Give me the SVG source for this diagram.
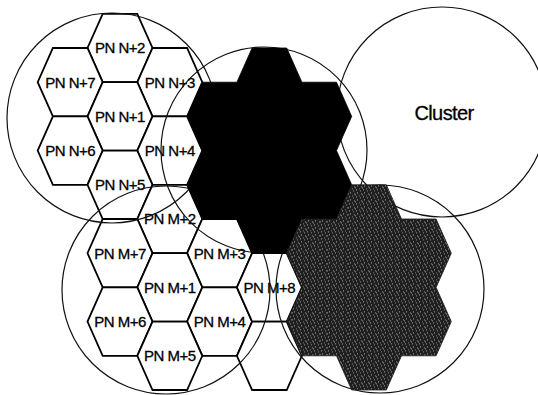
<svg xmlns="http://www.w3.org/2000/svg" xmlns:xlink="http://www.w3.org/1999/xlink" width="538" height="395" viewBox="0 0 538 395">
<style>
.hex{fill:#fff;stroke:#000;stroke-width:1.8;stroke-linejoin:miter}
.circ{fill:none;stroke:#111;stroke-width:1.2}
.lbl{font-family:"Liberation Sans",Arial,sans-serif;font-size:15px;letter-spacing:-0.5px;text-anchor:middle;fill:#000;stroke:#000;stroke-width:0.3}
.big{font-family:"Liberation Sans",Arial,sans-serif;font-size:20px;letter-spacing:-0.6px;text-anchor:middle;fill:#000;stroke:#000;stroke-width:0.3}
</style>
<defs>
<polygon id="hx" points="-17.3,-34.2 17.3,-34.2 32.5,0 17.3,34.2 -17.3,34.2 -32.5,0"/>
<polygon id="fl" points="-17.3,-102.6 17.3,-102.6 32.5,-68.4 67.1,-68.4 82.3,-34.2 67.1,0 82.3,34.2 67.1,68.4 32.5,68.4 17.3,102.6 -17.3,102.6 -32.5,68.4 -67.1,68.4 -82.3,34.2 -67.1,0 -82.3,-34.2 -67.1,-68.4 -32.5,-68.4"/>
<pattern id="dith" width="7" height="7" patternUnits="userSpaceOnUse">
<rect width="7" height="7" fill="#1f1f1f"/>
<rect x="1" y="0" width="1" height="1" fill="#a5a5a5"/>
<rect x="5" y="1" width="1" height="1" fill="#8a8a8a"/>
<rect x="2" y="3" width="1" height="1" fill="#b0b0b0"/>
<rect x="6" y="4" width="1" height="1" fill="#909090"/>
<rect x="0" y="5" width="1" height="1" fill="#9c9c9c"/>
<rect x="4" y="6" width="1" height="1" fill="#7a7a7a"/>
</pattern>
</defs>
<rect width="538" height="395" fill="#fff"/>

<g id="cluster-n">
<g id="pn-n2"><use href="#hx" class="hex" transform="translate(120,48)"/><text class="lbl" x="120" y="53.4">PN N+2</text></g>
<g id="pn-n7"><use href="#hx" class="hex" transform="translate(70.2,82.2)"/><text class="lbl" x="70.2" y="87.6">PN N+7</text></g>
<g id="pn-n3"><use href="#hx" class="hex" transform="translate(169.8,82.2)"/><text class="lbl" x="169.8" y="87.6">PN N+3</text></g>
<g id="pn-n1"><use href="#hx" class="hex" transform="translate(120,116.4)"/><text class="lbl" x="120" y="121.8">PN N+1</text></g>
<g id="pn-n6"><use href="#hx" class="hex" transform="translate(70.2,150.6)"/><text class="lbl" x="70.2" y="156">PN N+6</text></g>
<g id="pn-n4"><use href="#hx" class="hex" transform="translate(169.8,150.6)"/><text class="lbl" x="169.8" y="156">PN N+4</text></g>
<g id="pn-n5"><use href="#hx" class="hex" transform="translate(120,184.8)"/><text class="lbl" x="120" y="190.2">PN N+5</text></g>
</g>

<g id="cluster-m">
<g id="pn-m2"><use href="#hx" class="hex" transform="translate(169.8,219)"/><text class="lbl" x="169.8" y="224.4">PN M+2</text></g>
<g id="pn-m7"><use href="#hx" class="hex" transform="translate(120,253.2)"/><text class="lbl" x="120" y="258.6">PN M+7</text></g>
<g id="pn-m3"><use href="#hx" class="hex" transform="translate(219.6,253.2)"/><text class="lbl" x="219.6" y="258.6">PN M+3</text></g>
<g id="pn-m1"><use href="#hx" class="hex" transform="translate(169.8,287.4)"/><text class="lbl" x="169.8" y="292.8">PN M+1</text></g>
<g id="pn-m6"><use href="#hx" class="hex" transform="translate(120,321.6)"/><text class="lbl" x="120" y="327">PN M+6</text></g>
<g id="pn-m4"><use href="#hx" class="hex" transform="translate(219.6,321.6)"/><text class="lbl" x="219.6" y="327">PN M+4</text></g>
<g id="pn-m5"><use href="#hx" class="hex" transform="translate(169.8,355.8)"/><text class="lbl" x="169.8" y="361.2">PN M+5</text></g>
<g id="pn-m8"><use href="#hx" class="hex" transform="translate(269.4,287.4)"/><text class="lbl" x="269.4" y="292.8">PN M+8</text></g>
<g id="hex-empty"><use href="#hx" class="hex" transform="translate(269.4,355.8)"/></g>
</g>

<g id="circles">
<circle class="circ" cx="112" cy="118" r="105"/>
<circle class="circ" cx="264" cy="150" r="103"/>
<circle class="circ" cx="442" cy="112" r="105"/>
<circle class="circ" cx="166" cy="290" r="104"/>
<circle class="circ" cx="380" cy="289" r="104"/>
</g>

<g id="black-cluster"><use href="#fl" transform="translate(269.4,150.6)" fill="#000" stroke="#000" stroke-width="0.8"/></g>
<g id="grey-cluster"><use href="#fl" transform="translate(369,287.4)" fill="url(#dith)" stroke="#1a1a1a" stroke-width="0.8"/></g>

<g id="cluster-label"><text class="big" x="444" y="120">Cluster</text></g>
<g id="connectors"/>
</svg>
